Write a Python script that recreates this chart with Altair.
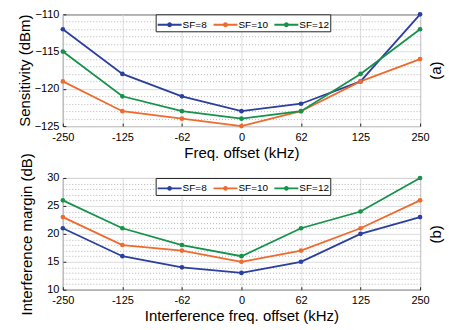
import altair as alt
import pandas as pd

offsets = ["-250", "-125", "-62", "0", "62", "125", "250"]
series = ["SF=8", "SF=10", "SF=12"]
colors = ["#2B3F9E", "#EF6A2D", "#16924A"]

sens_sf8 = [-112, -118, -121, -123, -122, -119, -110]
sens_sf10 = [-119, -123, -124, -125, -123, -119, -116]
sens_sf12 = [-115, -121, -123, -124, -123, -118, -112]

marg_sf8 = [21, 16, 14, 13, 15, 20, 23]
marg_sf10 = [23, 18, 17, 15, 17, 21, 26]
marg_sf12 = [26, 21, 18, 16, 21, 24, 30]

sens_major = [-125, -120, -115, -110]
sens_minor = [v for v in range(-125, -109) if v % 5 != 0]
marg_major = [10, 15, 20, 25, 30]
marg_minor = [v for v in range(10, 31) if v % 5 != 0]


def long(vals_list):
    rows = []
    for s, vals in zip(series, vals_list):
        for o, v in zip(offsets, vals):
            rows.append({"offset": o, "series": s, "value": v})
    return pd.DataFrame(rows)


FONT = "Liberation Sans"
W, H = 358, 112


def circ(r):
    return f"M{-r},0a{r},{r} 0 1,0 {2*r},0a{r},{r} 0 1,0 {-2*r},0"


sym_path = "M-1.5,0H1.5" + circ(0.045) + circ(0.12) + circ(0.195)


def panel(df, domain, major, minor, ytitle, xtitle, tag, ytitle_pad):
    x = alt.X(
        "offset:O", sort=offsets,
        scale=alt.Scale(type="point", padding=0),
        axis=alt.Axis(title=xtitle, labelAngle=0, grid=True, gridColor="#dcdcdc",
                      offset=-3, tickSize=3, tickColor="#262626",
                      labelPadding=5, titlePadding=3, domain=False),
    )
    color = alt.Color(
        "series:N",
        scale=alt.Scale(domain=series, range=colors),
        legend=alt.Legend(
            orient="none", legendX=93, legendY=0, direction="horizontal", title=None,
            strokeColor="#262626", fillColor="white", padding=1,
            symbolType=sym_path, symbolSize=256, symbolStrokeWidth=1.8,
            symbolOffset=4,
            labelFontSize=10, labelFont=FONT, labelColor="black",
            columnPadding=2, labelOffset=4,
        ),
    )
    lines = alt.Chart(df).mark_line(
        strokeWidth=1.8, point=alt.OverlayMarkDef(filled=True, size=22)
    ).encode(
        x=x,
        y=alt.Y("value:Q", scale=alt.Scale(domain=domain, nice=False, zero=False),
                axis=alt.Axis(values=major, title=ytitle, grid=True, gridColor="#dcdcdc",
                              offset=-3, tickSize=3, tickColor="#262626",
                              labelPadding=4, domain=False, titlePadding=ytitle_pad)),
        color=color,
    )
    minor_layer = alt.Chart(df).mark_point(opacity=0).encode(
        y=alt.Y("value:Q",
                axis=alt.Axis(orient="right", values=minor, grid=True, gridDash=[1, 2],
                              gridColor="#b4b4b4", labels=False, ticks=False, domain=False,
                              title=tag, titleAngle=270, titleBaseline="top",
                              titlePadding=8)),
    )
    return alt.layer(lines, minor_layer).resolve_axis(y="independent").properties(width=W, height=H)


top = panel(long([sens_sf8, sens_sf10, sens_sf12]), [-125, -110], sens_major, sens_minor,
            "Sensitivity (dBm)", "Freq. offset (kHz)", "(a)", 2)
bottom = panel(long([marg_sf8, marg_sf10, marg_sf12]), [10, 30], marg_major, marg_minor,
               "Interference margin (dB)", "Interference freq. offset (kHz)", "(b)", 12)

chart = alt.vconcat(top, bottom, spacing=52, bounds="flush").resolve_legend(
    color="independent"
).properties(
    padding={"left": 16, "top": 7, "right": 6, "bottom": 5}
).configure(font=FONT).configure_view(
    stroke="black", strokeWidth=1
).configure_axis(
    labelFont=FONT, titleFont=FONT, labelFontSize=11, titleFontSize=15,
    titleFontWeight="normal", labelColor="black", titleColor="black",
)

chart.save("out.html", embed_options={"renderer": "svg", "actions": False})
